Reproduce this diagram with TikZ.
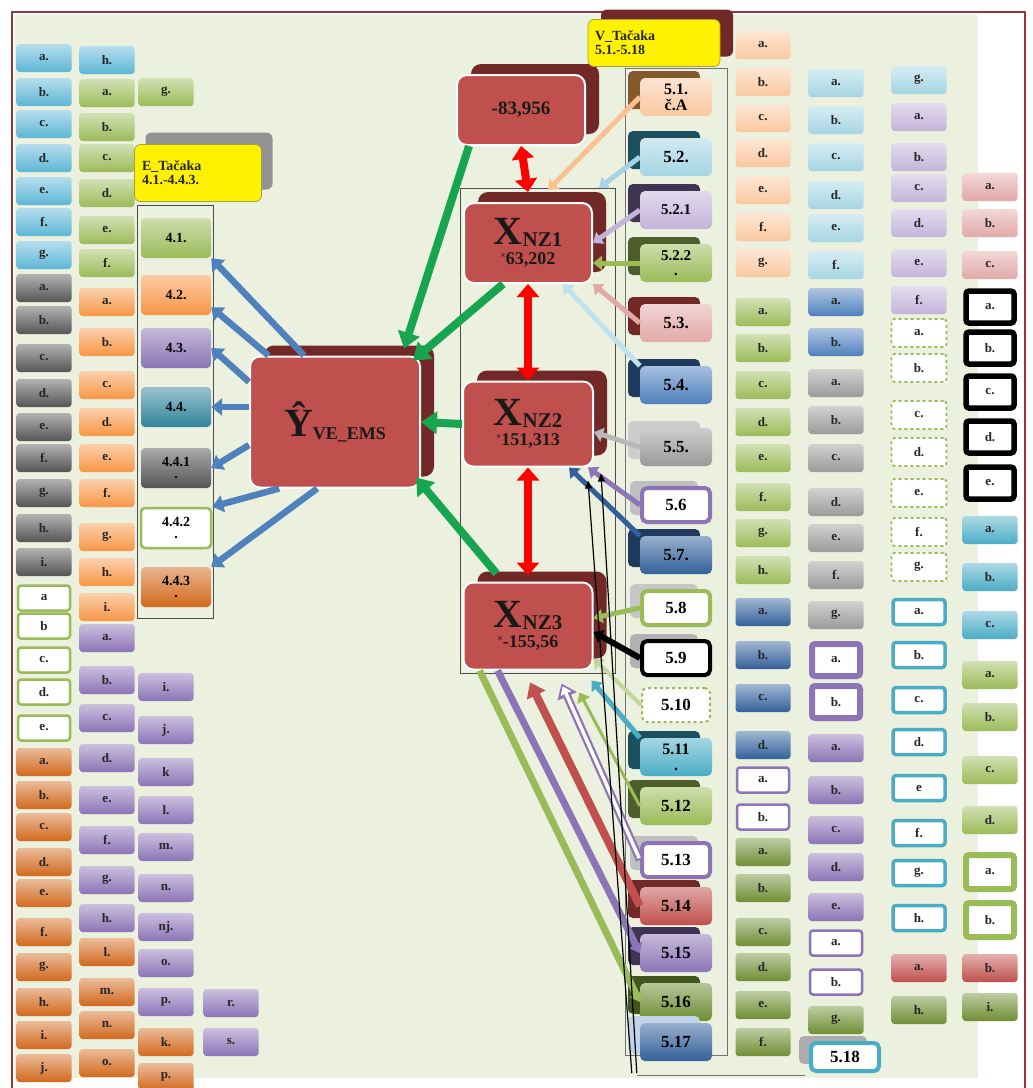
\documentclass[tikz,border=0pt]{standalone}
\usepackage{fontspec}
\setmainfont{Liberation Serif}
\usepackage{tikz}
\usetikzlibrary{arrows.meta,shadows}

\definecolor{bgG}{HTML}{EBF1DE}
\definecolor{frR}{HTML}{953735}
\definecolor{cyA}{HTML}{5DB6D6}
\definecolor{grA}{HTML}{555555}
\definecolor{gnA}{HTML}{9BBB59}
\definecolor{orA}{HTML}{F79646}
\definecolor{puA}{HTML}{8C74B6}
\definecolor{brA}{HTML}{D2691E}
\definecolor{tlA}{HTML}{31859C}
\definecolor{tlB}{HTML}{4BACC6}
\definecolor{pcA}{HTML}{FAC8A0}
\definecolor{lbA}{HTML}{A5D5E4}
\definecolor{buA}{HTML}{4F81BD}
\definecolor{buB}{HTML}{33609A}
\definecolor{gyA}{HTML}{9A9A9A}
\definecolor{lpA}{HTML}{C3B4DA}
\definecolor{pkA}{HTML}{E2A9A7}
\definecolor{dgA}{HTML}{6F8E34}
\definecolor{rdA}{HTML}{C0504D}
\definecolor{rdS}{HTML}{722826}
\definecolor{gnR}{HTML}{17A550}

\begin{document}
\begin{tikzpicture}[x=1pt, y=-1pt,
    lb/.style={rounded corners=3pt, minimum width=55pt, minimum height=28pt, inner sep=1pt,
        font=\bfseries\fontsize{13}{13}\selectfont, text=black!85},
    fb/.style={lb, top color=#1!45!white, bottom color=#1},
    wb/.style={lb, fill=white, draw=#1, line width=2.5pt, minimum width=52pt, minimum height=25pt},
    tb/.style={lb, fill=white, draw=#1, line width=5.5pt, minimum width=48pt, minimum height=32pt},
    db/.style={lb, fill=white, draw=gnA, dashed, line width=1.8pt},
    pt/.style={rounded corners=4pt, minimum width=70pt, minimum height=40pt, align=center, inner sep=2pt,
        font=\bfseries\fontsize{14}{12}\selectfont, top color=#1!50!white, bottom color=#1},
    sb/.style 2 args={rounded corners=5pt, minimum width=72pt, minimum height=38pt, align=center, inner sep=2pt,
        font=\bfseries\fontsize{17}{17}\selectfont, top color=#1!50!white, bottom color=#1,
        general shadow={fill=#2, shadow xshift=-12pt, shadow yshift=7pt}},
    sw/.style 2 args={rounded corners=5pt, minimum width=68pt, minimum height=34pt, align=center, inner sep=2pt,
        font=\bfseries\fontsize{17}{17}\selectfont, fill=white, draw=#1, line width=4pt,
        general shadow={fill=#2, shadow xshift=-12pt, shadow yshift=7pt}},
    rb/.style={rounded corners=10pt, fill=rdA, draw=white, line width=2pt, align=center,
        font=\bfseries\fontsize{18}{20}\selectfont, text=black!90,
        general shadow={fill=rdS, shadow xshift=14pt, shadow yshift=11pt}},
    yb/.style={rounded corners=6pt, fill=yellow, draw=yellow!60!black, line width=0.8pt,
        align=left, inner sep=4pt, font=\bfseries\fontsize{14}{14}\selectfont, text=black!85},
    ba/.style={draw=buA, line width=6.5pt, -{Triangle[length=11pt,width=17pt]}},
    ga/.style={draw=gnR, line width=8pt, -{Triangle[length=16pt,width=22pt]}},
    ra/.style={draw=red, line width=8pt, {Triangle[length=13pt,width=22pt]}-{Triangle[length=13pt,width=22pt]}},
    sa/.style={line width=5pt, -{Triangle[length=9pt,width=14pt]}}]

    \useasboundingbox (0,0) rectangle (1033,1088);
    \fill[white] (0,0) rectangle (1033,1088);
    \fill[bgG] (15,15) rectangle (978,1078);
    \draw[frR, line width=2.5pt] (12,1088) -- (12,12) -- (1025,12) -- (1025,1088);

    % frames
    \draw[black!70] (137,205) rectangle (213,618);
    \draw[black!70] (460,188) rectangle (615,673);
    \draw[black!55, line width=1pt] (625,68) rectangle (727,1055);
    \draw[black!55, line width=1pt] (637,1075) -- (805,1075);

    % left columns
    \foreach \y/\lab [count=\i] in {58/a.,92/b.,124/c.,158/d.,191/e.,222/f.,255/g.}
        \node[fb=cyA] (cy\i) at (44,\y) {\lab};
    \foreach \y/\lab [count=\i] in {288/a.,320/b.,358/c.,393/d.,427/e.,458/f.,493/g.,528/h.,562/i.}
        \node[fb=grA] (gr\i) at (44,\y) {\lab};
    \foreach \y/\lab [count=\i] in {598/a,626/b,660/c.,692/d.,728/e.}
        \node[wb=gnA] (wg\i) at (44,\y) {\lab};
    \foreach \y/\lab [count=\i] in {762/a.,795/b.,827/c.,862/d.,893/e.,932/f.,967/g.,1002/h.,1035/i.,1068/j.}
        \node[fb=brA] (br\i) at (44,\y) {\lab};

    \node[fb=cyA] (cyh) at (107,60) {h.};
    \foreach \y/\lab [count=\i] in {93/a.,127/b.,158/c.,193/d.,230/e.,263/f.}
        \node[fb=gnA] (gn\i) at (107,\y) {\lab};
    \foreach \y/\lab [count=\i] in {302/a.,342/b.,385/c.,422/d.,458/e.,493/f.,537/g.,572/h.,607/i.}
        \node[fb=orA] (or\i) at (107,\y) {\lab};
    \foreach \y/\lab [count=\i] in {638/a.,680/b.,718/c.,758/d.,800/e.,840/f.,880/g.,918/h.}
        \node[fb=puA] (pu\i) at (107,\y) {\lab};
    \foreach \y/\lab [count=\i] in {952/l.,992/m.,1025/n.,1063/o.}
        \node[fb=brA] (bs\i) at (107,\y) {\lab};

    \node[fb=gnA] (gng) at (166,92) {g.};
    \foreach \y/\lab [count=\i] in {687/i.,730/j.,772/k,810/l.,847/m.,888/n.,927/nj.,963/o.,1002/p.}
        \node[fb=puA] (pv\i) at (166,\y) {\lab};
    \node[fb=brA] (bk) at (166,1042) {k.};
    \node[fb=brA] (bp) at (166,1077) {p.};
    \node[fb=puA] (pr) at (231,1003) {r.};
    \node[fb=puA] (ps) at (231,1042) {s.};

    % E points
    \node[yb, minimum width=127pt, minimum height=57pt, text width=112pt,
        general shadow={fill=gray!85, shadow xshift=11pt, shadow yshift=12pt}] (eT) at (198,173)
        {E\_Tačaka\\4.1.-4.4.3.};
    \node[pt=gnA] (t41) at (176,238) {4.1.};
    \node[pt=orA] (t42) at (176,295) {4.2.};
    \node[pt=puA] (t43) at (176,348) {4.3.};
    \node[pt=tlA] (t44) at (176,407) {4.4.};
    \node[pt=grA] (t441) at (176,468) {4.4.1\\.};
    \node[pt=white, draw=gnA, line width=2.5pt] (t442) at (176,528) {4.4.2\\.};
    \node[pt=brA] (t443) at (176,587) {4.4.3\\.};

    % model boxes
    \node[rb, minimum width=170pt, minimum height=131pt] (Y) at (335,422)
        {{\fontsize{40}{40}\selectfont Ŷ}\raisebox{-3pt}{\fontsize{18}{18}\selectfont VE\_EMS}};
    \node[rb, minimum width=128pt, minimum height=70pt, font=\bfseries\fontsize{19}{19}\selectfont] (c0) at (521,110) {-83,956};
    \node[rb, minimum width=128pt, minimum height=80pt] (x1) at (528,243)
        {{\fontsize{40}{30}\selectfont X}\raisebox{-2pt}{\fontsize{21}{21}\selectfont NZ1}\\\raisebox{6pt}{\fontsize{9}{9}\selectfont ×}63,202};
    \node[rb, minimum width=130pt, minimum height=85pt] (x2) at (528,424)
        {{\fontsize{40}{30}\selectfont X}\raisebox{-2pt}{\fontsize{21}{21}\selectfont NZ2}\\\raisebox{6pt}{\fontsize{9}{9}\selectfont ×}151,313};
    \node[rb, minimum width=129pt, minimum height=87pt] (x3) at (528,626)
        {{\fontsize{40}{30}\selectfont X}\raisebox{-2pt}{\fontsize{21}{21}\selectfont NZ3}\\\raisebox{6pt}{\fontsize{9}{9}\selectfont ×}-155,56};

    \draw[ba] (Y.115) -- (t41.south east);
    \draw[ba] (Y.135) -- ([yshift=8pt]t42.south east);
    \draw[ba] (Y.155) -- (t43.east);
    \draw[ba] ([yshift=15pt]Y.west) -- (t44.east);
    \draw[ba] (Y.195) -- (t441.east);
    \draw[ba] (Y.230) -- (t442.north east);
    \draw[ba] (Y.255) -- (t443.north east);

    \draw[ga] ([xshift=13pt]c0.south west) -- ([shift={(-17pt,7pt)}]Y.north east);
    \draw[ga] ([xshift=40pt]x1.south west) -- ([shift={(-8pt,-5pt)}]Y.north east);
    \draw[ga] (x2.west) -- (Y.east);
    \draw[ga] ([shift={(34pt,8pt)}]x3.north west) -- ([shift={(-5pt,11pt)}]Y.south east);

    \draw[ra] (c0.south) -- ([yshift=10pt]x1.north);
    \draw[ra] (x1.south) -- (x2.north);
    \draw[ra] (x2.south) -- ([yshift=6pt]x3.north);

    % V points
    \node[yb, minimum width=132pt, minimum height=47pt, text width=118pt,
        general shadow={fill=rdS, shadow xshift=13pt, shadow yshift=10pt}] (vT) at (654,43)
        {V\_Tačaka\\5.1.-5.18};
    \node[sb={pcA}{brown!70!black}, font=\bfseries\fontsize{16}{16}\selectfont] (s51) at (676,97) {5.1.\\č.A};
    \node[sb={lbA}{tlA!60!black}] (s52) at (676,157) {5.2.};
    \node[sb={lpA}{puA!45!black}, font=\bfseries\fontsize{15}{15}\selectfont] (s521) at (676,210) {5.2.1};
    \node[sb={gnA}{gnA!50!black}, font=\bfseries\fontsize{15}{15}\selectfont] (s522) at (676,263) {5.2.2\\.};
    \node[sb={pkA}{rdS}] (s53) at (676,323) {5.3.};
    \node[sb={buA}{buB!60!black}] (s54) at (676,385) {5.4.};
    \node[sb={gyA}{gray!40}] (s55) at (676,447) {5.5.};
    \node[sw={puA}{gray!50}] (s56) at (676,505) {5.6};
    \node[sb={buB}{buB!60!black}] (s57) at (676,555) {5.7.};
    \node[sw={gnA}{gray!45}] (s58) at (676,608) {5.8};
    \node[sw={black}{gray!60}] (s59) at (676,658) {5.9};
    \node[sw={gnA}{bgG}, dashed, line width=2pt] (s510) at (676,705) {5.10};
    \node[sb={tlB}{tlA!60!black}, font=\bfseries\fontsize{16}{16}\selectfont] (s511) at (676,757) {5.11\\.};
    \node[sb={gnA}{gnA!50!black}] (s512) at (676,806) {5.12};
    \node[sw={puA}{gray!50}] (s513) at (676,860) {5.13};
    \node[sb={rdA}{rdS}] (s514) at (676,906) {5.14};
    \node[sb={puA}{puA!45!black}] (s515) at (676,953) {5.15};
    \node[sb={dgA}{dgA!60!black}] (s516) at (676,1002) {5.16};
    \node[sb={buB}{buA!35!white}] (s517) at (676,1042) {5.17};

    % right columns
    \foreach \y/\lab [count=\i] in {45/a.,82/b.,118/c.,153/d.,190/e.,227/f.,263/g.}
        \node[fb=pcA] (ra\i) at (763,\y) {\lab};
    \foreach \y/\lab [count=\i] in {312/a.,348/b.,385/c.,422/d.,458/e.,497/f.,533/g.,570/h.}
        \node[fb=gnA] (rb\i) at (763,\y) {\lab};
    \foreach \y/\lab [count=\i] in {612/a.,655/b.,698/c.,745/d.}
        \node[fb=buB] (rc\i) at (763,\y) {\lab};
    \foreach \y/\lab [count=\i] in {780/a.,817/b.}
        \node[wb=puA] (rd\i) at (763,\y) {\lab};
    \foreach \y/\lab [count=\i] in {852/a.,888/b.,932/c.,967/d.,1005/e.,1042/f.}
        \node[fb=dgA] (re\i) at (763,\y) {\lab};

    \foreach \y/\lab [count=\i] in {83/a.,120/b.,157/c.,195/d.,228/e.,265/f.}
        \node[fb=lbA] (qa\i) at (836,\y) {\lab};
    \foreach \y/\lab [count=\i] in {302/a.,342/b.}
        \node[fb=buA] (qb\i) at (836,\y) {\lab};
    \foreach \y/\lab [count=\i] in {383/a.,420/b.,458/c.,502/d.,538/e.,575/f.,615/g.}
        \node[fb=gyA] (qc\i) at (836,\y) {\lab};
    \foreach \y/\lab [count=\i] in {660/a.,702/b.}
        \node[tb=puA, line width=6pt] (qd\i) at (836,\y) {\lab};
    \foreach \y/\lab [count=\i] in {748/a.,790/b.,830/c.,867/d.,907/e.}
        \node[fb=puA] (qe\i) at (836,\y) {\lab};
    \foreach \y/\lab [count=\i] in {943/a.,982/b.}
        \node[wb=puA] (qf\i) at (836,\y) {\lab};
    \node[fb=dgA] (qg) at (836,1020) {g.};

    \node[fb=lbA] (pa) at (919,80) {g.};
    \foreach \y/\lab [count=\i] in {117/a.,157/b.,188/c.,223/d.,263/e.,300/f.}
        \node[fb=lpA] (pb\i) at (919,\y) {\lab};
    \foreach \y/\lab [count=\i] in {333/a.,368/b.,415/c.,452/d.,493/e.,532/f.,567/g.}
        \node[db] (pc\i) at (919,\y) {\lab};
    \foreach \y/\lab [count=\i] in {612/a.,655/b.,700/c.,742/d.,788/e,833/f.,873/g.,918/h.}
        \node[wb=tlB, line width=3.5pt] (pd\i) at (919,\y) {\lab};
    \node[fb=rdA] (pe) at (919,968) {a.};
    \node[fb=dgA] (pf) at (919,1010) {h.};

    \foreach \y/\lab [count=\i] in {187/a.,223/b.,265/c.}
        \node[fb=pkA] (oa\i) at (990,\y) {\lab};
    \foreach \y/\lab [count=\i] in {307/a.,348/b.,392/c.,437/d.,483/e.}
        \node[tb=black] (ob\i) at (990,\y) {\lab};
    \foreach \y/\lab [count=\i] in {530/a.,577/b.,625/c.}
        \node[fb=tlB] (oc\i) at (990,\y) {\lab};
    \foreach \y/\lab [count=\i] in {675/a.,717/b.,770/c.,820/d.}
        \node[fb=gnA] (od\i) at (990,\y) {\lab};
    \foreach \y/\lab [count=\i] in {872/a.,920/b.}
        \node[tb=gnA, line width=6pt, minimum height=34pt] (oe\i) at (990,\y) {\lab};
    \node[fb=rdA] (of) at (990,968) {b.};
    \node[fb=dgA] (og) at (990,1007) {i.};

    \node[sw={tlB}{gray!65}, minimum height=28pt] (s518) at (845,1057) {5.18};

    % arrows from V points
    \draw[sa, draw=pcA!90!orange] (s51.west) -- ([shift={(20pt,12pt)}]x1.north);
    \draw[sa, draw=lbA] (s52.west) -- ([shift={(6pt,14pt)}]x1.north east);
    \draw[sa, draw=lpA] (s521.west) -- (x1.east);
    \draw[sa, draw=gnA] (s522.west) -- ([yshift=-20pt]x1.east);
    \draw[sa, draw=pkA] (s53.west) -- (x1.south east);
    \draw[sa, draw=lbA!70!white] (s54.north west) -- ([xshift=-30pt]x1.south east);
    \draw[sa, draw=gyA!70!white] (s55.west) -- ([yshift=-8pt]x2.east);
    \draw[sa, draw=puA] (s56.west) -- ([xshift=-6pt]x2.south east);
    \draw[sa, draw=buB] (s57.north west) -- ([xshift=-25pt]x2.south east);
    \draw[sa, draw=gnA] (s58.west) -- ([yshift=8pt]x3.east);
    \draw[sa, draw=black, line width=6pt] (s59.west) -- ([yshift=-6pt]x3.east);
    \draw[sa, draw=gnA!60!white, line width=4pt] (s510.west) -- ([yshift=12pt]x3.south east);
    \draw[sa, draw=tlB] (s511.north west) -- ([xshift=-2pt,yshift=-10pt]x3.south east);
    \draw[sa, draw=gnA, line width=3pt] (s512.west) -- ([shift={(-14pt,-22pt)}]x3.south east);
    \draw[sa, draw=puA, line width=8pt, -{Triangle[length=14pt,width=20pt]}] (s513.west) -- ([shift={(-32pt,-13pt)}]x3.south east);
    \draw[sa, draw=white, line width=3.5pt, -{Triangle[length=8pt,width=11pt]}, shorten >=3pt, shorten <=2pt] (s513.west) -- ([shift={(-32pt,-13pt)}]x3.south east);
    \draw[sa, draw=rdA, line width=8pt, -{Triangle[length=14pt,width=20pt]}] (s514.west) -- ([shift={(2pt,-12pt)}]x3.south);
    \draw[sa, draw=puA, line width=7pt] ([xshift=35pt]x3.south west) -- (s515.west);
    \draw[sa, draw=gnA, line width=7pt] ([xshift=17pt]x3.south west) -- (s516.west);
    \draw[black, line width=1.2pt, -{Triangle[length=8pt,width=7pt]}] ([shift={(-8pt,-12pt)}]s517.south west) -- ([shift={(-6pt,-13pt)}]x2.south east);
    \draw[black, line width=1.2pt, -{Triangle[length=8pt,width=7pt]}] ([shift={(-3pt,-12pt)}]s517.south west) -- ([shift={(7pt,-6pt)}]x2.south east);

\end{tikzpicture}
\end{document}
